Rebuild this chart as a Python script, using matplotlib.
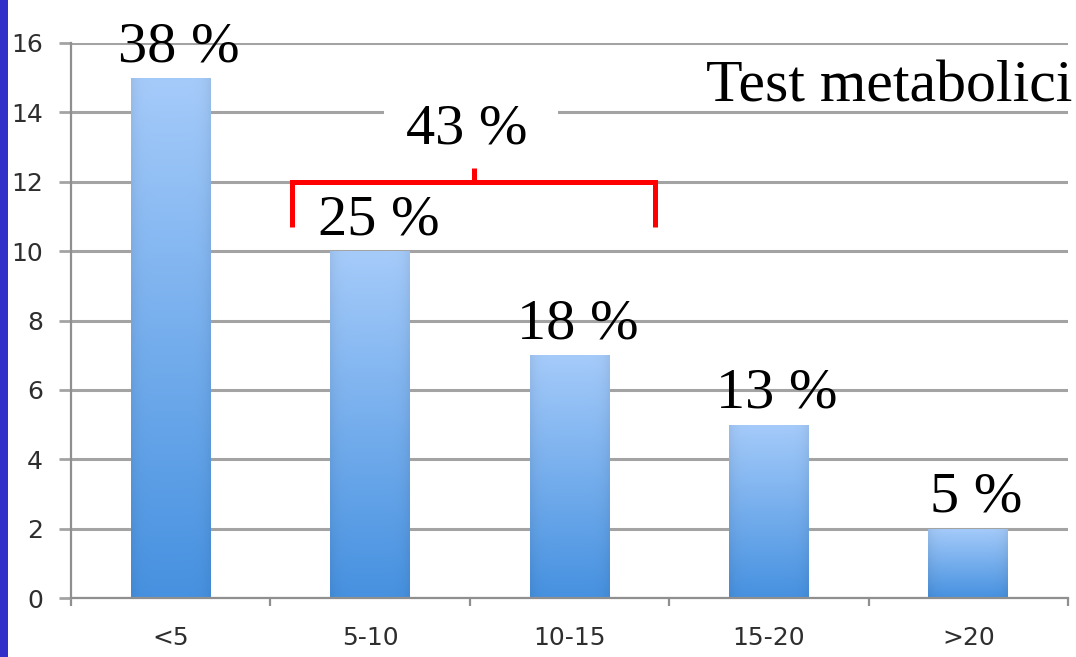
import numpy as np
import matplotlib
matplotlib.use("Agg")
import matplotlib.pyplot as plt
from matplotlib.patches import Rectangle

# Data
categories = ["<5", "5-10", "10-15", "15-20", ">20"]
counts = [15, 10, 7, 5, 2]
percent_labels = ["38 %", "25 %", "18 %", "13 %", "5 %"]
group_label = "43 %"
title_text = "Test metabolici"
y_ticks = [0, 2, 4, 6, 8, 10, 12, 14, 16]

W, H = 1076, 657
fig = plt.figure(figsize=(W / 100, H / 100), dpi=100)
fig.patch.set_facecolor("white")

# Blue stripe along the left edge of the slide
fig.patches.append(Rectangle((0, 0), 8 / W, 1, transform=fig.transFigure,
                             facecolor="#3131c9", edgecolor="none", zorder=0))

ax = fig.add_axes([71 / W, 59 / H, 997 / W, 555 / H])
ax.set_facecolor("white")

grid_col = "#a3a3a3"
ax.set_axisbelow(True)
ax.yaxis.grid(True, color=grid_col, lw=2.2)
ax.xaxis.grid(False)

x = np.arange(len(categories))
bars = ax.bar(x, counts, width=0.4, color="none", edgecolor="none", zorder=2)

# Vertical gradient fill for each bar, light on top, darker at the base
top = np.array([165, 203, 250]) / 255
bottom = np.array([70, 145, 224]) / 255
ny, nx = 200, 40
t = np.linspace(0, 1, ny)[:, None, None]
col = bottom + (top - bottom) * t
xs = np.linspace(-1, 1, nx)
shade = 1 - 0.06 * (np.abs(xs) ** 6)
img = np.clip(col * shade[None, :, None], 0, 1)
img = np.broadcast_to(img, (ny, nx, 3)).copy()
for b in bars:
    bx, bw, bh = b.get_x(), b.get_width(), b.get_height()
    im = ax.imshow(img, extent=[bx, bx + bw, 0, bh], origin="lower",
                   aspect="auto", zorder=2, interpolation="bilinear")
    im.set_clip_path(b)

ax.set_xlim(-0.5, len(categories) - 0.5)
ax.set_ylim(0, 16)

# Axes styling
for s in ("top", "right"):
    ax.spines[s].set_visible(False)
for s in ("left", "bottom"):
    ax.spines[s].set_color("#8f8f8f")
    ax.spines[s].set_linewidth(1.6)

tick_font = "DejaVu Sans"
ax.set_yticks(y_ticks)
ax.set_yticklabels([str(v) for v in y_ticks])
ax.tick_params(axis="y", length=9, width=2, color=grid_col, pad=11,
               labelsize=18, labelcolor="#2e2e2e")
for lab in ax.get_yticklabels():
    lab.set_fontfamily(tick_font)

ax.set_xticks(x)
ax.set_xticklabels(categories)
ax.tick_params(axis="x", which="major", length=0, pad=20,
               labelsize=18, labelcolor="#2e2e2e")
for lab in ax.get_xticklabels():
    lab.set_fontfamily(tick_font)
ax.set_xticks(np.arange(len(categories) + 1) - 0.5, minor=True)
ax.tick_params(axis="x", which="minor", length=6, width=1.6, color="#8f8f8f")

# Percentage labels above bars
serif = "Liberation Serif"
for xi, v, lab in zip(x, counts, percent_labels):
    ax.annotate(lab, xy=(xi, v), xytext=(6, 12), textcoords="offset points",
                ha="center", va="baseline", fontsize=42, family=serif,
                color="black", zorder=5)

# Bracket grouping the 5-10 and 10-15 classes
ax.add_patch(Rectangle((1.07, 12.5), 0.87, 2.15, facecolor="white",
                       edgecolor="none", zorder=1))
ax.plot([0.61, 0.61, 2.43, 2.43], [10.7, 12, 12, 10.7], color="#ff0000",
        lw=3.6, solid_joinstyle="miter", solid_capstyle="butt", zorder=4)
ax.plot([1.52, 1.52], [12, 12.4], color="#ff0000", lw=3.6,
        solid_capstyle="butt", zorder=4)
ax.text(1.485, 13.1, group_label, ha="center", va="baseline", fontsize=42,
        family=serif, color="black", zorder=5)

fig.text(1072 / W, (H - 101) / H, title_text, ha="right", va="baseline",
         fontsize=43, family=serif, color="black")

fig.savefig("out.png", dpi=100, facecolor="white")
